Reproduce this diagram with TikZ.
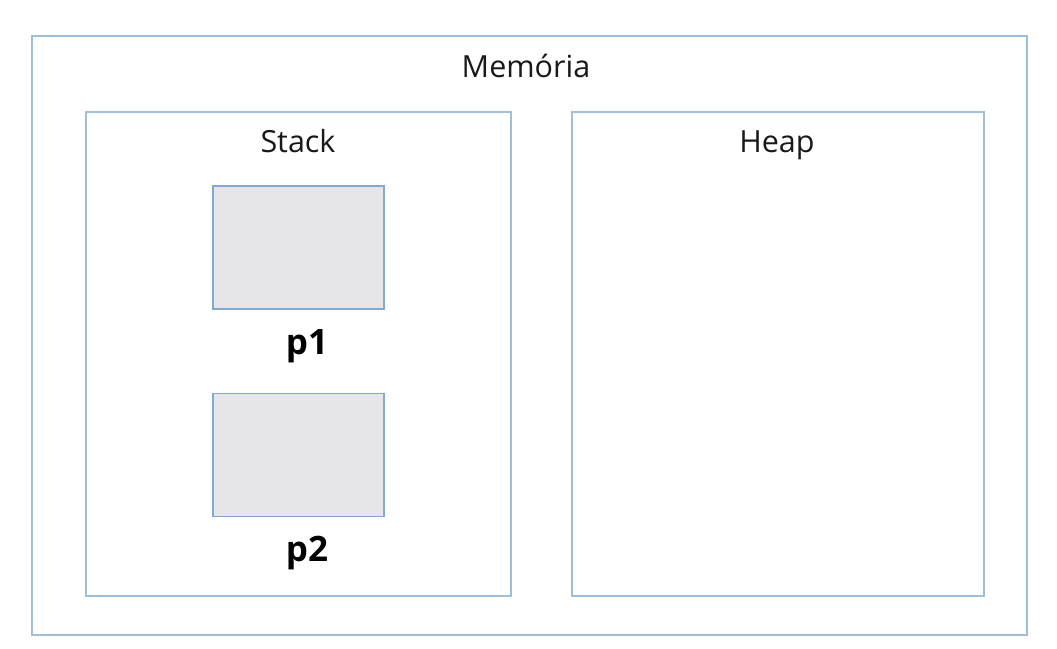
\documentclass[tikz,border=0pt]{standalone}
\usepackage{fontspec}
\setmainfont{Open Sans}
\usetikzlibrary{positioning}

\definecolor{boxblue}{RGB}{160,190,214}
\definecolor{varblue}{RGB}{130,168,212}
\definecolor{vargray}{RGB}{230,230,232}

\tikzset{
  area/.style={draw=boxblue, line width=1.6pt, inner sep=0pt},
  varbox/.style={draw=varblue, fill=vargray, line width=1.4pt, inner sep=0pt,
    minimum width=171pt, minimum height=123pt},
  title/.style={font=\fontsize{30.5}{34}\selectfont, text=black!90, anchor=base},
  varname/.style={font=\fontsize{35}{40}\selectfont\bfseries, anchor=base}
}

\begin{document}
\begin{tikzpicture}[x=1pt, y=-1pt]

  % Frame
  \useasboundingbox (0,0) rectangle (1057,648);

  % Memory
  \draw[area] (32,36) rectangle (1027,635);
  \node[title] (memoria) at (526,77) {Memória};

  % Stack
  \draw[area] (86,112) rectangle (511,596);
  \node[title] (stack) at (298,152) {Stack};
  \node[varbox] (p1box) at (298.5,247.5) {};
  \node[varname] (p1) at (307,354) {p1};
  \node[varbox] (p2box) at (298.5,455) {};
  \node[varname] (p2) at (307,561) {p2};

  % Heap
  \draw[area] (572,112) rectangle (984,596);
  \node[title] (heap) at (777,152) {Heap};

\end{tikzpicture}
\end{document}
